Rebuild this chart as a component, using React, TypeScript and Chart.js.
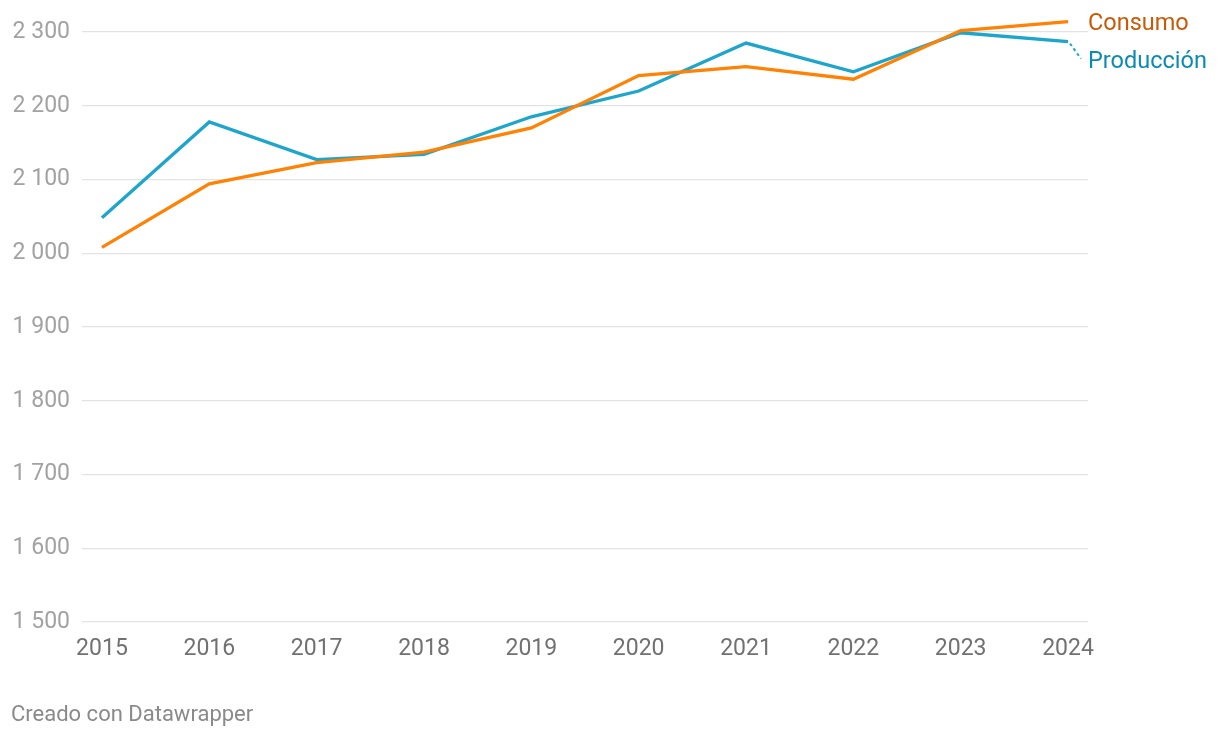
import React, { useEffect, useRef } from "react";
import { Chart, registerables } from "chart.js";

Chart.register(...registerables);

const years = [2015, 2016, 2017, 2018, 2019, 2020, 2021, 2022, 2023, 2024];
const consumo = [2008, 2094, 2123, 2137, 2170, 2241, 2253, 2236, 2302, 2314];
const produccion = [2048, 2178, 2127, 2134, 2185, 2220, 2285, 2246, 2299, 2287];
const yTicks = [1500, 1600, 1700, 1800, 1900, 2000, 2100, 2200, 2300];

const ORANGE = "#ff8205";
const BLUE = "#1ea5cc";
const ORANGE_TEXT = "#c95a06";
const BLUE_TEXT = "#0c8ab4";

const fmt = (v: number) => {
  const s = String(Math.round(v));
  return s.length > 3 ? s.slice(0, s.length - 3) + " " + s.slice(-3) : s;
};

const labelPlugin = {
  id: "endLabels",
  afterDatasetsDraw(chart: any) {
    const ctx = chart.ctx;
    const xs = chart.scales.x;
    const ys = chart.scales.y;
    const last = years.length - 1;
    const px = xs.getPixelForValue(years[last]);
    const cy = ys.getPixelForValue(consumo[last]);
    const py = ys.getPixelForValue(produccion[last]);
    const tx = chart.chartArea.right;
    const cLabelY = cy + 2;
    const pLabelY = Math.max(py, cLabelY + 38);
    ctx.save();
    ctx.font = "23.5px Roboto";
    ctx.textBaseline = "middle";
    ctx.textAlign = "left";
    ctx.fillStyle = ORANGE_TEXT;
    ctx.fillText("Consumo", tx, cLabelY);
    ctx.fillStyle = BLUE_TEXT;
    ctx.fillText("Producción", tx, pLabelY);
    if (pLabelY - py > 6) {
      ctx.strokeStyle = BLUE;
      ctx.lineWidth = 2;
      ctx.setLineDash([3, 3]);
      ctx.beginPath();
      ctx.moveTo(px + 2, py + 2);
      ctx.lineTo(tx - 7, pLabelY - 3);
      ctx.stroke();
    }
    ctx.restore();
  },
};

export default function App() {
  const ref = useRef<HTMLCanvasElement>(null);
  useEffect(() => {
    document.body.style.margin = "0";
    const chart = new Chart(ref.current!, {
      type: "line",
      data: {
        datasets: [
          {
            label: "Consumo",
            data: years.map((y, i) => ({ x: y, y: consumo[i] })),
            borderColor: ORANGE,
            borderWidth: 3.3,
            pointRadius: 0,
            clip: false as any,
            tension: 0,
          },
          {
            label: "Producción",
            data: years.map((y, i) => ({ x: y, y: produccion[i] })),
            borderColor: BLUE,
            borderWidth: 3.3,
            pointRadius: 0,
            clip: false as any,
            tension: 0,
          },
        ],
      },
      options: {
        animation: false,
        responsive: false,
        devicePixelRatio: 1,
        layout: { padding: { top: 32, right: 132, left: 0, bottom: 0 } },
        plugins: { legend: { display: false }, tooltip: { enabled: false } },
        scales: {
          x: {
            type: "linear",
            min: 2014.814,
            max: 2024.186,
            afterBuildTicks: (s: any) => {
              s.ticks = years.map((v) => ({ value: v }));
            },
            afterFit: (s: any) => {
              s.height = 116;
            },
            grid: { display: false },
            border: { display: false },
            ticks: {
              padding: 5,
              color: "#717171",
              font: { family: "Roboto", size: 23 },
              callback: (v: any) => String(v),
              maxRotation: 0,
              autoSkip: false,
            },
          },
          y: {
            min: 1500,
            max: 2300,
            afterBuildTicks: (s: any) => {
              s.ticks = yTicks.map((v) => ({ value: v }));
            },
            afterFit: (s: any) => {
              s.width = 82;
            },
            grid: { color: "#e3e3e3", lineWidth: 1.3, drawTicks: false },
            border: { display: false },
            ticks: {
              padding: 12,
              color: "#a2a2a2",
              font: { family: "Roboto", size: 23 },
              callback: (v: any) => fmt(Number(v)),
            },
          },
        },
      },
      plugins: [labelPlugin],
    });
    return () => chart.destroy();
  }, []);
  return (
    <div style={{ position: "relative", width: 1220, height: 738, fontFamily: "Roboto" }}>
      <canvas ref={ref} width={1220} height={738} style={{ display: "block" }} />
      <div
        style={{
          position: "absolute",
          left: 11,
          top: 701,
          fontSize: 22,
          color: "#8a8a8a",
          lineHeight: "26px",
        }}
      >
        Creado con Datawrapper
      </div>
    </div>
  );
}
